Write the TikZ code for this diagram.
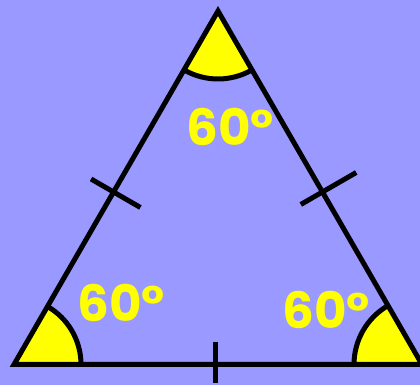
\documentclass[tikz,border=0pt]{standalone}
\usepackage{fontspec}
\setmainfont{Poppins}
\usetikzlibrary{calc}
\definecolor{figBg}{RGB}{153,153,255}
\definecolor{figY}{RGB}{255,255,0}

\begin{document}
\begin{tikzpicture}[x=1pt,y=1pt,line join=miter]
\tikzset{side/.style={line width=5pt,black},
  sector/.style={fill=figY},
  anglab/.style={text=figY,font=\fontsize{50}{50}\selectfont\bfseries,inner sep=0pt}}
\fill[figBg] (0,0) rectangle (420,385);
\useasboundingbox (0,0) rectangle (420,385);
\coordinate (B) at (14,20.5); \coordinate (C) at (422,20.5); \coordinate (A) at (218,374);
% angle sectors
\fill[sector] (B) -- ++(0:67) arc (0:60:67) -- cycle;
\fill[sector] (C) -- ++(180:68) arc (180:120:68) -- cycle;
\fill[sector] (A) -- ++(240:68) arc (240:300:68) -- cycle;
\draw[side] ($(B)+(0:67)$) arc (0:60:67);
\draw[side] ($(C)+(180:68)$) arc (180:120:68);
\draw[side] ($(A)+(240:68)$) arc (240:300:68);
\draw[side] (A) -- (B) -- (C) -- cycle;
% tick marks
\coordinate (mAB) at ($(A)!0.512!(B)$); \coordinate (mAC) at ($(A)!0.512!(C)$); \coordinate (mBC) at (215,20.5);
\draw[side] ($(mAB)!26pt!-90:(B)$) -- ($(mAB)!31pt!90:(B)$);
\draw[side] ($(mAC)!39pt!90:(C)$) -- ($(mAC)!25pt!-90:(C)$);
\draw[side] ($(mBC)+(0,22.5)$) -- ($(mBC)+(0,-18.5)$);
% labels
\node[anglab] (labA) at (230,258) {60°};
\node[anglab] (labB) at (121,82) {60°};
\node[anglab] (labC) at (326,75) {60°};
\end{tikzpicture}
\end{document}
